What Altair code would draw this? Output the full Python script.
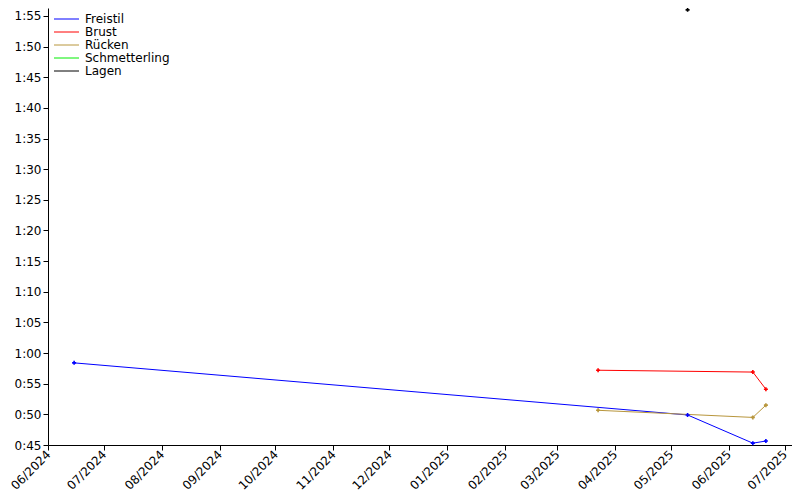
import altair as alt
import pandas as pd

series_names = ["Freistil", "Brust", "Rücken", "Schmetterling", "Lagen"]
series_colors = ["#0000ff", "#ff0000", "#b8963c", "#00ee00", "#000000"]

freistil_dates = ["2024-06-15", "2025-05-10", "2025-06-14", "2025-06-21"]
freistil_secs = [58.4, 49.9, 45.3, 45.65]

brust_dates = ["2025-03-23", "2025-06-14", "2025-06-21"]
brust_secs = [57.2, 56.9, 54.1]

ruecken_dates = ["2025-03-23", "2025-06-14", "2025-06-21"]
ruecken_secs = [50.66, 49.5, 51.5]

lagen_dates = ["2025-05-10"]
lagen_secs = [116.0]

rows = []
for name, ds, vs in [("Freistil", freistil_dates, freistil_secs),
                     ("Brust", brust_dates, brust_secs),
                     ("Rücken", ruecken_dates, ruecken_secs),
                     ("Lagen", lagen_dates, lagen_secs)]:
    for d, v in zip(ds, vs):
        rows.append({"Serie": name, "Datum": d, "Zeit": v})
df = pd.DataFrame(rows)

month_ticks = [alt.DateTime(year=2024 + (5 + i) // 12, month=(5 + i) % 12 + 1, date=1, utc=True)
               for i in range(14)]
y_ticks = list(range(45, 120, 5))

x_enc = alt.X("Datum:T",
              scale=alt.Scale(type="utc",
                              domain=[alt.DateTime(year=2024, month=6, date=1, utc=True),
                                      alt.DateTime(year=2025, month=7, date=5, utc=True)]),
              axis=alt.Axis(values=month_ticks, format="%m/%Y", labelAngle=-45,
                            labelAlign="right", labelBaseline="middle", title=None,
                            grid=False, domainColor="black", tickColor="black",
                            labelColor="black", labelFontSize=12, labelFont="DejaVu Sans",
                            tickSize=5, labelPadding=2, labelOverlap=False))
y_enc = alt.Y("Zeit:Q",
              scale=alt.Scale(domain=[45, 116.3], nice=False, zero=False),
              axis=alt.Axis(values=y_ticks, title=None, grid=False,
                            labelExpr="floor(datum.value/60) + ':' + (datum.value % 60 < 10 ? '0' : '') + (datum.value % 60)",
                            domainColor="black", tickColor="black", labelColor="black",
                            labelFontSize=12, labelFont="DejaVu Sans", tickSize=5,
                            labelPadding=2))
color_enc = alt.Color("Serie:N",
                      scale=alt.Scale(domain=series_names, range=series_colors),
                      legend=alt.Legend(title=None, orient="none", legendX=12.5, legendY=5,
                                        symbolType="M-2.5,0L2.5,0", symbolSize=100,
                                        symbolStrokeWidth=1, labelFontSize=12,
                                        labelFont="DejaVu Sans", labelColor="black",
                                        rowPadding=1, labelOffset=12.5))

base = alt.Chart(df)
lines = base.mark_line(strokeWidth=1, clip=False).encode(x=x_enc, y=y_enc, color=color_enc,
                                                         order="Datum:T")
points = base.mark_point(shape="cross", filled=True, size=16, opacity=1, clip=False).encode(
    x=x_enc, y=y_enc, color=alt.Color("Serie:N", scale=alt.Scale(domain=series_names, range=series_colors), legend=None))

chart = (lines + points).properties(
    width=744, height=437,
    autosize=alt.AutoSizeParams(type="none"),
    padding={"left": 40, "top": 0, "right": 0, "bottom": 47},
).configure_view(stroke=None)

chart.save("out.html", embed_options={"renderer": "svg", "actions": False})
